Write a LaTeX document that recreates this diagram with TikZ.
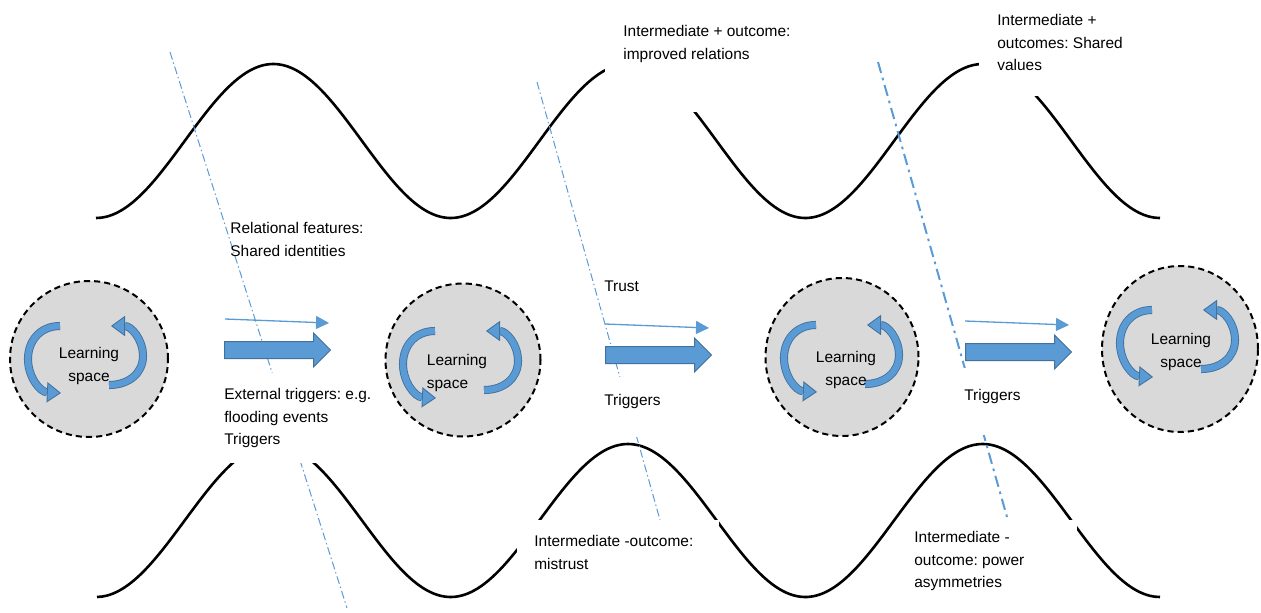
\documentclass[tikz,border=0pt]{standalone}
\usepackage{fontspec}
\setmainfont{Liberation Sans}
\frenchspacing
\usetikzlibrary{arrows.meta}
\usetikzlibrary{shapes.geometric}
\usetikzlibrary{shapes.arrows}
\newlength{\pxl}
\setlength{\pxl}{0.02cm}
\definecolor{spacegray}{RGB}{217,217,217}
\definecolor{officeblue}{RGB}{91,155,213}
\definecolor{edgeblue}{RGB}{65,113,156}
\newcommand{\tbox}[3]{\parbox[t][#1][t]{#2}{\raggedright #3}}
\tikzstyle{learning space}=[ellipse, draw, fill=spacegray, line width=2\pxl, dash pattern=on 3.5pt off 2.3pt, inner sep=0pt]
\tikzstyle{space label}=[align=center, inner sep=0pt, font=\fontsize{8.8}{12.8}\selectfont]
\tikzstyle{loop arrow}=[draw=edgeblue, double=officeblue, line width=0.5pt, double distance=3.6pt, -{Triangle[length=8pt, width=11.5pt, fill=officeblue]}]
\tikzstyle{trigger arrow}=[single arrow, draw=edgeblue, fill=officeblue, line width=1\pxl, inner sep=8\pxl, single arrow head extend=8.5\pxl, minimum height=106\pxl, anchor=tail]
\tikzstyle{feature arrow}=[officeblue, line width=1.3\pxl, -{Triangle[length=7.4pt, width=7.4pt]}]
\tikzstyle{wave}=[line width=2.6\pxl]
\tikzstyle{boundary}=[officeblue, line width=1\pxl, dash pattern=on 4.5pt off 1.7pt on 0.8pt off 1.7pt]
\tikzstyle{bold boundary}=[boundary, line width=2\pxl, dash pattern=on 6.5pt off 2.8pt on 1.5pt off 2.8pt]
\tikzstyle{textbox}=[fill=white, anchor=north west, font=\fontsize{8.8}{12.8}\selectfont]

\begin{document}
\begin{tikzpicture}[x=0.02cm, y=-0.02cm]
  \useasboundingbox (0,0) rectangle (1261,612);
  % upper and lower waves
  \draw[wave] plot[variable=\t, domain=96:1160, samples=200, smooth] (\t, {141+77*cos((\t-96)/354.67*360)});
  \draw[wave] plot[variable=\t, domain=97:1160, samples=200, smooth] (\t, {520.5+76.5*cos((\t-96)/354.67*360)});
  % phase boundaries
  \coordinate (b1a) at (170,52);
  \coordinate (b1b) at (347,608);
  \coordinate (b2a) at (537,82);
  \coordinate (b2b) at (660,520);
  \coordinate (b3a) at (878,62);
  \coordinate (b3b) at (1007,517);
  \draw[boundary] (b1a) -- (b1b);
  \draw[boundary] (b2a) -- (b2b);
  \draw[bold boundary] (b3a) -- (b3b);
  % learning spaces
  \node[learning space, minimum width=158\pxl, minimum height=156\pxl] (ls1) at (89,359) {};
  \node[learning space, minimum width=155\pxl, minimum height=153\pxl] (ls2) at (463,360) {};
  \node[learning space, minimum width=153\pxl, minimum height=158\pxl] (ls3) at (842,357) {};
  \node[learning space, minimum width=156\pxl, minimum height=166\pxl] (ls4) at (1180,349) {};
  \foreach \gx/\gy in {86/358, 461/363, 842/357, 1178/342} {
    \begin{scope}[shift={(\gx,\gy)}]
      \draw[loop arrow] (-26,-32) .. controls (-46,-32) and (-58,-17) .. (-58,1) .. controls (-58,19) and (-46,34) .. (-25,35);
      \draw[loop arrow] (23,27) .. controls (43,27) and (57,15) .. (57,-2) .. controls (57,-19) and (45,-32) .. (25,-32);
    \end{scope}
  }
  \node[space label] (lt1) at (89,366) {Learning\\space};
  \node[space label, align=left] (lt2) at (457,373) {Learning\\space};
  \node[space label] (lt3) at (846,370) {Learning\\space};
  \node[space label] (lt4) at (1181,352) {Learning\\space};
  % triggers
  \foreach \i/\xa/\ya/\xb/\yb in {1/225/319/329/323, 2/605/324/709/328, 3/965/321/1069/325} {
    \coordinate (f\i a) at (\xa,\ya);
    \coordinate (f\i b) at (\xb,\yb);
    \draw[feature arrow] (f\i a) -- (f\i b);
  }
  \node[trigger arrow] (t1) at (224,350) {};
  \node[trigger arrow] (t2) at (605,355) {};
  \node[trigger arrow] (t3) at (965,352) {};
  % text boxes
  \node[textbox, fill=none, inner xsep=1\pxl, inner ysep=7\pxl] (rel) at (229,215) {\tbox{81\pxl}{140\pxl}{Relational features:\\Shared identities}};
  \node[textbox, inner xsep=8\pxl, inner ysep=15\pxl] (ext) at (216,373) {\tbox{60\pxl}{150\pxl}{External triggers: e.g.\\flooding events\\Triggers}};
  \node[textbox, inner xsep=4\pxl, inner ysep=5\pxl] (trust) at (600,276) {\tbox{20\pxl}{40\pxl}{Trust}};
  \node[textbox, inner xsep=7\pxl, inner ysep=17\pxl] (trg2) at (597,377) {\tbox{26\pxl}{60\pxl}{Triggers}};
  \node[textbox, inner xsep=7\pxl, inner ysep=21\pxl] (trg3) at (957,368) {\tbox{25\pxl}{60\pxl}{Triggers}};
  \node[textbox, inner xsep=18\pxl, inner ysep=15\pxl] (impr) at (605,10) {\tbox{72\pxl}{175\pxl}{Intermediate + outcome:\\improved relations}};
  \node[textbox, inner xsep=18\pxl, inner ysep=14\pxl] (shv) at (979,0) {\tbox{68\pxl}{130\pxl}{Intermediate +\\outcomes: Shared\\values}};
  \node[textbox, inner xsep=17\pxl, inner ysep=15\pxl] (mis) at (517,520) {\tbox{37\pxl}{168\pxl}{Intermediate -outcome:\\mistrust}};
  \node[textbox, inner xsep=15\pxl, inner ysep=11\pxl] (pow) at (899,520) {\tbox{70\pxl}{148\pxl}{Intermediate -\\outcome: power\\asymmetries}};
\end{tikzpicture}
\end{document}
